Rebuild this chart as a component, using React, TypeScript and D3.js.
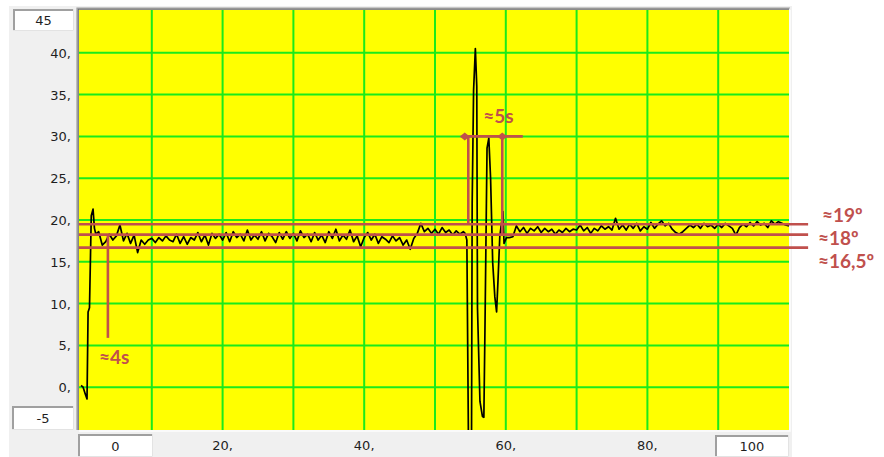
import React from "react";
import * as d3 from "d3";

// start of the recording: the sensor jumps from ~0 to ~21
const rampPts: [number, number][] = [
  [0, 0.2], [0.3, 0], [0.6, -0.8], [0.85, -1.4], [1.0, 9], [1.2, 9.5],
  [1.45, 20.5], [1.7, 21.3], [1.9, 19], [2.1, 18.3],
];

// steady part before the disturbance, one value every 0.5 from x = 2.5
const steadyA = [
  18.6, 17.0, 17.4, 18.3, 17.6, 18.1, 19.4, 17.5, 18.4, 17.2, 18.2, 16.1,
  17.6, 17.1, 17.6, 17.8, 17.3, 17.9, 17.5, 18.1, 17.6, 17.4, 18.3, 17.2,
  18.0, 17.1, 17.9, 17.6, 18.5, 17.4, 18.2, 17.0, 18.4, 17.8, 18.3, 17.6,
  18.5, 17.4, 18.6, 17.9, 18.3, 17.5, 18.8, 17.6, 18.2, 17.7, 18.6, 17.5,
  18.4, 18.0, 17.3, 18.5, 17.7, 18.6, 17.8, 18.4, 17.5, 18.7, 17.9, 18.3,
  17.4, 18.5, 17.6, 18.2, 17.3, 18.6, 17.8, 18.9, 17.5, 18.2, 17.7, 18.8,
  17.4, 18.1, 16.8, 17.9, 18.5, 17.6, 18.3, 17.2, 18.0, 17.7, 17.3, 18.1,
  17.5, 17.9, 17.0, 17.6, 16.5, 17.8, 18.4, 19.6, 18.6, 19.0, 18.4, 18.9,
  18.3, 19.1, 18.5, 18.8, 18.2, 18.7, 18.3, 18.6,
];

// the oscillation around x = 55..60
const spikePts: [number, number][] = [
  [54.25, 18.4], [54.5, 17.6], [54.75, -9], [55.15, -9], [55.25, 22],
  [55.45, 35.5], [55.7, 40.5], [55.9, 36], [56.0, 9.5], [56.35, -1.7],
  [56.7, -3.5], [56.9, -3.6], [57.05, 6.5], [57.35, 28.6], [57.6, 29.8],
  [57.85, 25], [58.15, 14.9], [58.45, 10.8], [58.7, 9], [58.9, 12.8],
  [59.15, 18], [59.6, 21], [59.75, 17.2], [60.1, 17.9],
];

// steady part after the disturbance, one value every 0.5 from x = 60.5
const steadyB = [
  17.9, 18.0, 19.3, 18.6, 19.1, 18.4, 19.0, 18.7, 19.2, 18.5, 19.0, 18.6,
  18.9, 18.3, 18.8, 18.5, 19.0, 18.6, 18.9, 18.8, 19.4, 18.7, 19.1, 18.4,
  19.0, 18.7, 19.3, 18.9, 19.2, 18.8, 20.2, 18.9, 19.4, 18.8, 19.5, 19.0,
  19.6, 18.7, 19.2, 18.9, 19.7, 19.0, 19.5, 19.9, 19.3, 19.6, 18.9, 18.5,
  18.3, 18.6, 19.0, 19.4, 19.1, 19.5, 19.0, 19.6, 19.2, 19.4, 19.0, 19.5,
  19.1, 19.6, 19.3, 19.0, 18.2, 19.1, 19.5, 19.2, 19.7, 19.3, 19.8, 19.4,
  19.6, 19.1, 19.9, 19.5, 19.8, 19.6, 19.4, 19.3,
];

const xGrid = [10, 20, 30, 40, 50, 60, 70, 80, 90];
const yGrid = [0, 5, 10, 15, 20, 25, 30, 35, 40];
const xLabels = [20, 40, 60, 80];
const refLevels = [19.5, 18.25, 16.7];
const refTexts = ["≈19º", "≈18º", "≈16,5º"];

const W = 884;
const H = 457;
const RED = "#c0504d";

const x = d3.scaleLinear().domain([0, 100]).range([81, 789]);
const y = d3.scaleLinear().domain([-5, 45]).range([429, 11]);

const signal: [number, number][] = [
  ...rampPts,
  ...steadyA.map((v, i) => [2.5 + i * 0.5, v] as [number, number]),
  ...spikePts,
  ...steadyB.map((v, i) => [60.5 + i * 0.5, v] as [number, number]),
];

const line = d3
  .line<[number, number]>()
  .x((d) => x(d[0]))
  .y((d) => y(d[1]));

const tickFont = { fontFamily: "DejaVu Sans", fontSize: 13, fill: "#1e1e1e" };
const noteFont = { fontFamily: "Lato", fontWeight: 700, fontSize: 19, fill: RED };

// sunken white box used for the end labels
const Box = ({ x0, y0, w, h, label }: { x0: number; y0: number; w: number; h: number; label: string }) => (
  <g>
    <rect x={x0} y={y0} width={w} height={h} fill="#fff" />
    <path d={`M${x0 + 1},${y0 + h} V${y0 + 1} H${x0 + w}`} stroke="#a0a0a0" strokeWidth={2} fill="none" />
    <path d={`M${x0},${y0 + h - 0.5} H${x0 + w - 0.5} V${y0}`} stroke="#e3e3e3" strokeWidth={1} fill="none" />
    <text x={x0 + w / 2} y={y0 + h / 2 + 5} textAnchor="middle" {...tickFont}>{label}</text>
  </g>
);

export default function App() {
  const px0 = 79, px1 = 789, py0 = 10, py1 = 430;
  const yMark = 30;
  const m1 = 54.2, m2 = 59.5;
  const diamond = (cx: number, cy: number) =>
    `M${cx - 5},${cy} L${cx},${cy - 4} L${cx + 5},${cy} L${cx},${cy + 4} Z`;

  return (
    <svg width={W} height={H} style={{ position: "absolute", left: 0, top: 0 }}>
      <rect width={W} height={H} fill="#fff" />
      <rect x={9} y={6} width={783} height={H - 6} fill="#f0f0f0" />

      {/* plot area */}
      <defs>
        <clipPath id="plot">
          <rect x={px0} y={py0} width={px1 - px0} height={py1 - py0} />
        </clipPath>
      </defs>
      <rect x={px0} y={py0} width={px1 - px0} height={py1 - py0} fill="#ffff00" />
      <path d={`M${px0 - 2},${py1} V${py0 - 2} H${px1 + 1}`} stroke="#a0a0a0" strokeWidth={1.2} fill="none" />
      <path d={`M${px0 - 0.8},${py1} V${py0 - 0.8} H${px1}`} stroke="#696969" strokeWidth={1.2} fill="none" />
      <path d={`M${px0},${py1 + 1} H${px1 + 1} V${py0}`} stroke="#fdfdfd" strokeWidth={1.5} fill="none" />

      {xGrid.map((v) => (
        <line key={"gx" + v} x1={x(v)} x2={x(v)} y1={py0} y2={py1} stroke="#1aeb1a" strokeWidth={2} />
      ))}
      {yGrid.map((v) => (
        <line key={"gy" + v} x1={px0} x2={px1} y1={y(v)} y2={y(v)} stroke="#1aeb1a" strokeWidth={2} />
      ))}

      <path d={line(signal) || ""} clipPath="url(#plot)" fill="none" stroke="#000" strokeWidth={1.7} strokeLinejoin="round" />

      {/* y labels */}
      <Box x0={13} y0={9} w={61} h={22} label="45" />
      {yGrid.map((v) => (
        <text key={"ty" + v} x={71} y={y(v) + 5} textAnchor="end" {...tickFont}>{v + ","}</text>
      ))}
      <Box x0={12} y0={406} w={62} h={24} label="-5" />

      {/* x labels */}
      <Box x0={78} y0={434} w={75} h={23} label="0" />
      {xLabels.map((v) => (
        <text key={"tx" + v} x={x(v)} y={450} textAnchor="middle" {...tickFont}>{v + ","}</text>
      ))}
      <Box x0={715} y0={435} w={74} h={22} label="100" />

      {/* annotations */}
      {refLevels.map((v) => (
        <line key={"r" + v} x1={x(-0.3)} x2={x(102.7)} y1={y(v)} y2={y(v)} stroke={RED} strokeWidth={2.6} />
      ))}
      {refTexts.map((t, i) => (
        <text key={t} x={i === 0 ? 822 : 818} y={[222, 245, 268][i]} {...noteFont}>{t}</text>
      ))}

      <line x1={x(3.8)} x2={x(3.8)} y1={y(refLevels[1])} y2={y(5.9)} stroke={RED} strokeWidth={2.6} />
      <text x={x(3.8) - 9} y={364} {...noteFont}>≈4s</text>

      <line x1={x(53.8)} x2={x(62.4)} y1={y(yMark)} y2={y(yMark)} stroke={RED} strokeWidth={2.6} />
      <line x1={x(54.7)} x2={x(54.7)} y1={y(yMark)} y2={y(refLevels[0])} stroke={RED} strokeWidth={2.6} />
      <line x1={x(m2)} x2={x(m2)} y1={y(yMark)} y2={y(refLevels[1])} stroke={RED} strokeWidth={2.6} />
      <path d={diamond(x(m1), y(yMark))} fill={RED} />
      <path d={diamond(x(m2), y(yMark))} fill={RED} />
      <text x={x(56.8)} y={123} {...noteFont}>≈5s</text>
    </svg>
  );
}
